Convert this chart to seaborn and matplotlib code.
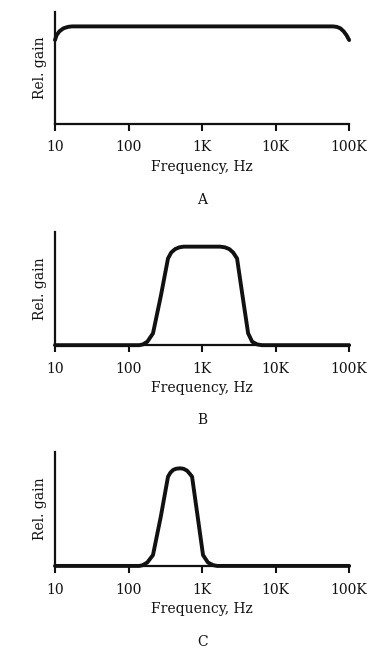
import seaborn as sns
import matplotlib.pyplot as plt
import pandas as pd

# dados (frequencia em Hz, ganho relativo)
freq_a = [10, 10.5, 11.5, 13, 15, 17, 60000, 68000, 76000, 84000, 92000, 100000]
gain_a = [0.86, 0.91, 0.95, 0.98, 0.995, 1.0, 1.0, 0.995, 0.98, 0.95, 0.91, 0.86]

freq_b = [10, 140, 157, 180, 215, 275, 344, 380, 430, 490, 560, 1760, 2050, 2350, 2650, 2990, 3550, 4230, 4800, 5600, 6500, 100000]
gain_b = [0.0, 0.0, 0.008, 0.035, 0.12, 0.5, 0.88, 0.94, 0.975, 0.993, 1.0, 1.0, 0.993, 0.975, 0.94, 0.88, 0.5, 0.12, 0.035, 0.008, 0.0, 0.0]

freq_c = [10, 140, 157, 180, 215, 275, 344, 370, 403, 440, 500, 560, 625, 680, 731, 870, 1030, 1200, 1410, 1600, 100000]
gain_c = [0.0, 0.0, 0.008, 0.035, 0.11, 0.5, 0.9, 0.94, 0.968, 0.98, 0.985, 0.98, 0.961, 0.93, 0.9, 0.5, 0.11, 0.035, 0.008, 0.0, 0.0]

tick_vals = [10, 100, 1000, 10000, 100000]
tick_labels = ["10", "100", "1K", "10K", "100K"]
panel_letters = ["A", "B", "C"]

sns.set_style("ticks")
plt.rcParams['font.family'] = ['DejaVu Serif']

fig = plt.figure(figsize=(3.82, 6.55), dpi=100)

# posicoes dos paineis [left, bottom, width, height]
boxes = [
    [0.144, 0.811, 0.770, 0.171],
    [0.144, 0.473, 0.770, 0.173],
    [0.144, 0.136, 0.770, 0.174],
]
letter_y = [0.694, 0.359, 0.020]

curves = [(freq_a, gain_a), (freq_b, gain_b), (freq_c, gain_c)]

for box, (f, g), letra, ly in zip(boxes, curves, panel_letters, letter_y):
    ax = fig.add_axes(box)
    df = pd.DataFrame({"freq": f, "gain": g})
    sns.lineplot(data=df, x="freq", y="gain", ax=ax, color="#111111",
                 linewidth=2.8, clip_on=False, solid_joinstyle="round",
                 solid_capstyle="round")
    ax.set_xscale("log")
    ax.set_xlim(10, 100000)
    ax.set_ylim(0, 1.15)
    ax.set_xticks(tick_vals)
    ax.set_xticklabels(tick_labels)
    ax.minorticks_off()
    ax.set_yticks([])
    ax.tick_params(axis="x", direction="out", length=5, width=1.5,
                   labelsize=10, pad=7, colors="#111111")
    for s in ["top", "right"]:
        ax.spines[s].set_visible(False)
    for s in ["left", "bottom"]:
        ax.spines[s].set_linewidth(1.6)
        ax.spines[s].set_color("#111111")
    ax.set_xlabel("Frequency, Hz", fontsize=10, labelpad=4, color="#111111")
    ax.set_ylabel("Rel. gain", fontsize=10, labelpad=6, color="#111111")
    fig.text(0.529, ly, letra, ha="center", va="center", fontsize=10, color="#111111")

plt.savefig("out.png", dpi=100)
